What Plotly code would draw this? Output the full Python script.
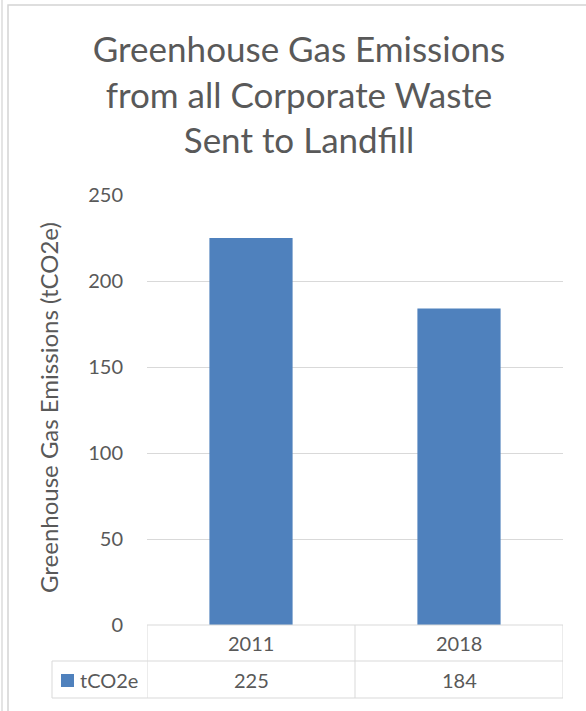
import plotly.graph_objects as go

# Data
categories = ["2011", "2018"]
values = [225, 184]
series_name = "tCO2e"
y_ticks = [0, 50, 100, 150, 200, 250]

W, H = 586, 711
L, R, T, B = 147, 23, 195, 86
PW, PH = W - L - R, H - T - B

def px(x):
    return (x - L) / PW

def py(y):
    return (H - B - y) / PH

BAR = "#4F81BD"
GRID = "#D9D9D9"
TXT = "#595959"
FONT = "Lato"

fig = go.Figure(
    go.Bar(x=categories, y=values, marker=dict(color=BAR, line=dict(width=0)),
           width=0.4, name=series_name, showlegend=False)
)

shapes = []
annotations = []

# data table grid
row1_top, row1_bot, row2_bot = 625, 661, 698
legend_left = 52
line = dict(color=GRID, width=1)
shapes.append(dict(type="line", xref="paper", yref="paper", x0=0, x1=1,
                   y0=py(row1_top), y1=py(row1_top), line=line))
shapes.append(dict(type="line", xref="paper", yref="paper", x0=px(legend_left), x1=1,
                   y0=py(row1_bot), y1=py(row1_bot), line=line))
shapes.append(dict(type="line", xref="paper", yref="paper", x0=px(legend_left), x1=1,
                   y0=py(row2_bot), y1=py(row2_bot), line=line))
for i in range(len(categories) + 1):
    shapes.append(dict(type="line", xref="x", yref="paper", x0=i - 0.5, x1=i - 0.5,
                       y0=py(row1_top), y1=py(row2_bot), line=line))
shapes.append(dict(type="line", xref="paper", yref="paper", x0=px(legend_left), x1=px(legend_left),
                   y0=py(row1_bot), y1=py(row2_bot), line=line))

# table texts
cell_font = dict(family=FONT, size=20, color=TXT)
for i, (cat, val) in enumerate(zip(categories, values)):
    annotations.append(dict(x=i, xref="x", y=py((row1_top + row1_bot) / 2), yref="paper",
                            yanchor="middle", text=cat, showarrow=False, font=cell_font))
    annotations.append(dict(x=i, xref="x", y=py((row1_bot + row2_bot) / 2), yref="paper",
                            yanchor="middle", text=str(val), showarrow=False, font=cell_font))

# legend key in table
shapes.append(dict(type="rect", xref="paper", yref="paper", x0=px(61), x1=px(74),
                   y0=py(687), y1=py(674), fillcolor=BAR, line=dict(width=0)))
annotations.append(dict(x=px(78), xref="paper", y=py((row1_bot + row2_bot) / 2), yref="paper",
                        xanchor="left", yanchor="middle", text=series_name, showarrow=False,
                        font=cell_font))

# axis title
annotations.append(dict(x=px(48), xref="paper", y=py(408), yref="paper", textangle=-90,
                        xanchor="center", yanchor="middle",
                        text="Greenhouse Gas Emissions (tCO2e)", showarrow=False,
                        font=dict(family=FONT, size=24, color=TXT)))

# outer chart frame
shapes.append(dict(type="rect", xref="paper", yref="paper", x0=px(8), x1=px(620),
                   y0=py(5), y1=py(760), line=dict(color="#D4D4D4", width=1.5)))
shapes.append(dict(type="line", xref="paper", yref="paper", x0=px(2), x1=px(2),
                   y0=py(0), y1=py(711), line=dict(color="#E4E4E4", width=2)))

fig.update_layout(
    width=W, height=H,
    margin=dict(l=L, r=R, t=T, b=B),
    paper_bgcolor="white", plot_bgcolor="white",
    title=dict(text="Greenhouse Gas Emissions<br>from all Corporate Waste<br>Sent to Landfill",
               x=299 / W, xanchor="center", y=1 - 62 / H, yanchor="middle",
               yref="container", font=dict(family=FONT, size=35, color=TXT)),
    xaxis=dict(type="category", showticklabels=False, showgrid=False, zeroline=False,
               showline=False, range=[-0.5, 1.5]),
    yaxis=dict(range=[0, 250], tickvals=y_ticks, showgrid=True, gridcolor=GRID, gridwidth=1,
               zeroline=False, showline=False, ticks="", ticklabelstandoff=23,
               tickfont=dict(family=FONT, size=20, color=TXT)),
    shapes=shapes,
    annotations=annotations,
    bargap=0.6,
)

fig.write_html("out.html")
